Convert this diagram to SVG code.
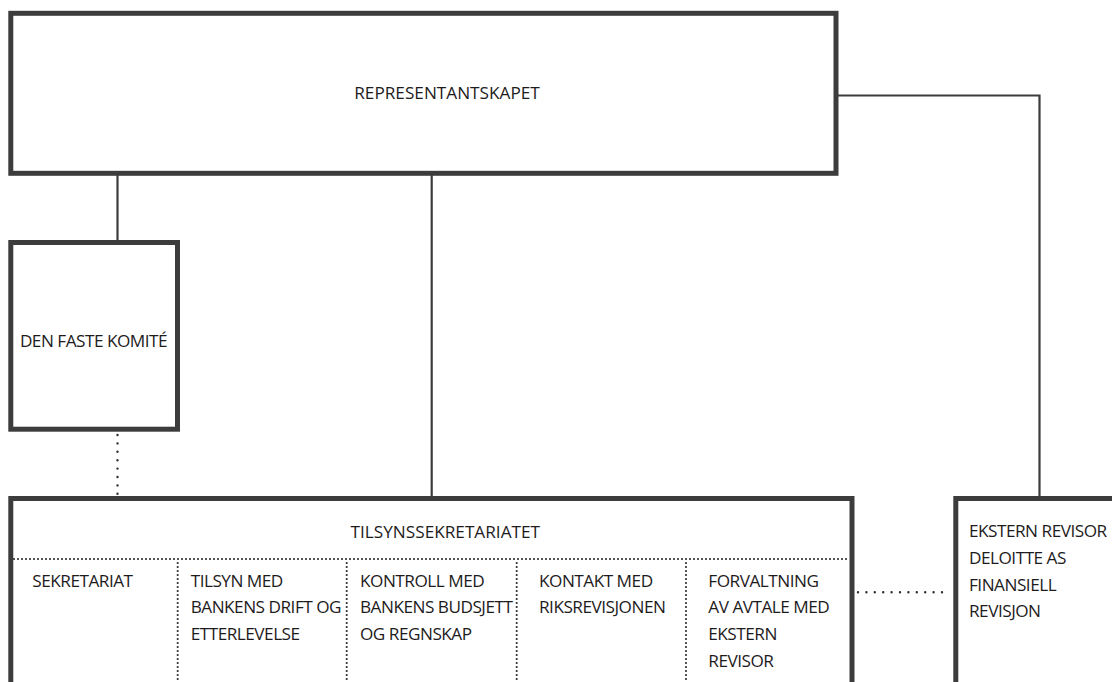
<svg xmlns="http://www.w3.org/2000/svg" width="1112" height="682" viewBox="0 0 1112 682">
<style>
.box{fill:#fff;stroke:#3c3c3c;stroke-width:5}
.ln{fill:none;stroke:#3c3c3c;stroke-width:2.2}
.dot{fill:none;stroke:#2e2e2e;stroke-width:2.4;stroke-linecap:round;stroke-dasharray:0 8.4}
.dotf{fill:none;stroke:#2e2e2e;stroke-width:2.2;stroke-linecap:round;stroke-dasharray:0 4}
text{font-family:"Open Sans","Noto Sans","Liberation Sans",sans-serif;font-size:17.2px;letter-spacing:-0.5px;fill:#1e1b1c}
.h{letter-spacing:0}
</style>
<rect width="1112" height="682" fill="#fff"/>
<g id="connectors">
<path class="ln" d="M117.5 173V242.5"/>
<path class="ln" d="M431.7 173V498.5"/>
<path class="ln" d="M836 95.5H1039.5V498.5"/>
<path class="dot" d="M117.5 435V494"/>
<path class="dot" d="M858 592.3H950"/>
</g>
<g id="representantskapet">
<rect class="box" x="10.8" y="13.3" width="825.2" height="160"/>
<text class="h" x="447" y="99.3" text-anchor="middle">REPRESENTANTSKAPET</text>
</g>
<g id="den-faste-komite">
<rect class="box" x="10.8" y="242.5" width="166.7" height="186.7"/>
<text x="93.5" y="346.7" text-anchor="middle">DEN FASTE KOMITÉ</text>
</g>
<g id="tilsynssekretariatet">
<rect class="box" x="10.8" y="498.5" width="841.2" height="200"/>
<text class="h" x="445.3" y="538.3" text-anchor="middle">TILSYNSSEKRETARIATET</text>
<path class="dotf" d="M14 559H849"/>
<path class="dotf" d="M177.7 563V682M346.7 563V682M516.7 563V682M686 563V682"/>
<text x="32.3" y="586.7">SEKRETARIAT</text>
<text x="190.7" y="586.7">TILSYN MED</text>
<text x="190.7" y="613.3">BANKENS DRIFT OG</text>
<text x="190.7" y="640">ETTERLEVELSE</text>
<text x="360" y="586.7">KONTROLL MED</text>
<text x="360" y="613.3">BANKENS BUDSJETT</text>
<text x="360" y="640">OG REGNSKAP</text>
<text x="539" y="586.7">KONTAKT MED</text>
<text x="539" y="613.3">RIKSREVISJONEN</text>
<text x="708.3" y="586.7">FORVALTNING</text>
<text x="708.3" y="613.3">AV AVTALE MED</text>
<text x="708.3" y="640">EKSTERN</text>
<text x="708.3" y="666.7">REVISOR</text>
</g>
<g id="ekstern-revisor">
<rect class="box" x="955.8" y="498.5" width="200" height="200"/>
<text x="969" y="537.3">EKSTERN REVISOR</text>
<text x="969" y="564">DELOITTE AS</text>
<text x="969" y="590.7">FINANSIELL</text>
<text x="969" y="617.3">REVISJON</text>
</g>
</svg>
